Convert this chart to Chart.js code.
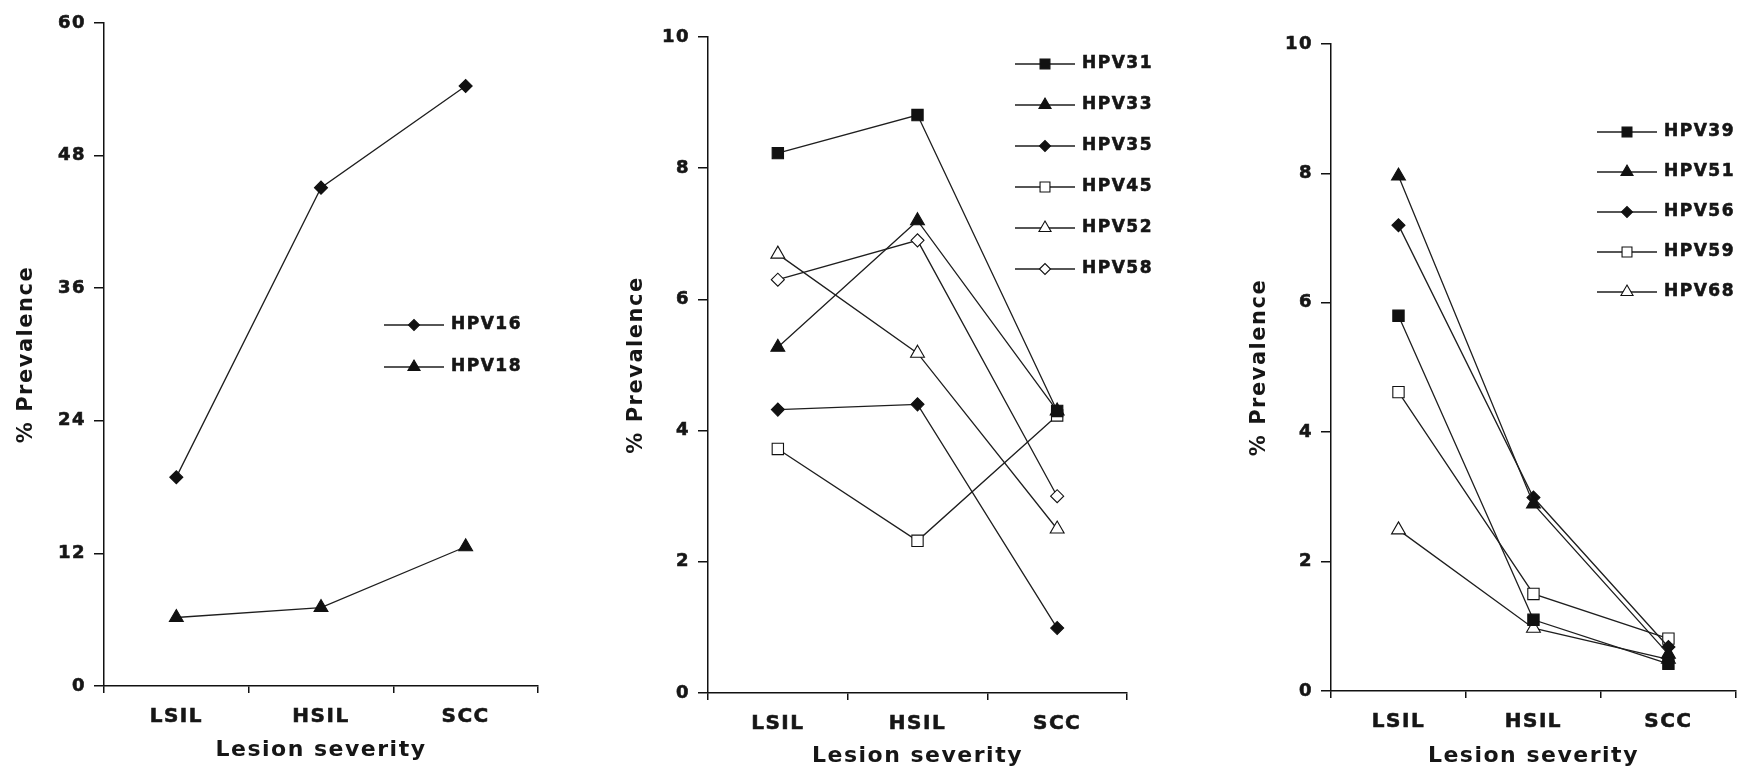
<!DOCTYPE html>
<html>
<head>
<meta charset="utf-8">
<title>HPV prevalence by lesion severity</title>
<script src="https://cdn.jsdelivr.net/npm/chart.js@4.4.1/dist/chart.umd.min.js"></script>
<style>
  html, body { margin: 0; padding: 0; background: #fff; }
  #wrap { position: relative; width: 1745px; height: 771px; overflow: hidden; }
  #wrap canvas { position: absolute; left: 0; top: 0; }
</style>
</head>
<body>
<div id="wrap">
  <canvas id="chartA" width="1745" height="771"></canvas>
  <canvas id="chartB" width="1745" height="771"></canvas>
  <canvas id="chartC" width="1745" height="771"></canvas>
</div>
<script>
// --- Data ---
const severity = ["LSIL", "HSIL", "SCC"];

const hpv16 = [18.9, 45.1, 54.3];
const hpv18 = [6.2, 7.1, 12.6];

const hpv31 = [8.23, 8.81, 4.3];
const hpv33 = [5.27, 7.2, 4.3];
const hpv35 = [4.32, 4.4, 0.99];
const hpv45 = [3.72, 2.32, 4.23];
const hpv52 = [6.69, 5.18, 2.5];
const hpv58 = [6.3, 6.9, 3.0];

const hpv39 = [5.8, 1.1, 0.42];
const hpv51 = [7.96, 2.89, 0.57];
const hpv56 = [7.2, 2.99, 0.68];
const hpv59 = [4.62, 1.5, 0.81];
const hpv68 = [2.49, 0.97, 0.49];

const yTicksA = [0, 12, 24, 36, 48, 60];
const yTicksB = [0, 2, 4, 6, 8, 10];

const ink = "#161616";
const fontFamily = "'DejaVu Sans', Verdana, sans-serif";
const spacing = "1.5px"; // the original lettering is wide

// marker looks: filled / open square, triangle, diamond
const markers = {
    square: { pointStyle: "rect", radius: 8 },
    triangle: { pointStyle: "triangle", radius: 8 },
    diamond: { pointStyle: "rectRot", radius: 6.5 },
};

function series(label, data, shape, filled) {
    const m = markers[shape];
    return {
        label: label,
        data: data,
        borderColor: "#1e1e1e",
        borderWidth: 1.3,
        pointStyle: m.pointStyle,
        pointRadius: m.radius,
        pointHoverRadius: m.radius,
        pointBackgroundColor: filled ? "#111" : "#fff",
        pointBorderColor: "#111",
        pointBorderWidth: 1.1,
        tension: 0,
        clip: false,
        fill: false,
    };
}

const spacingPlugin = {
    id: "spacing",
    beforeUpdate(chart) { chart.ctx.letterSpacing = spacing; },
    beforeDraw(chart) { chart.ctx.letterSpacing = spacing; },
};

function drawMarker(ctx, style, r, x, y) {
    ctx.beginPath();
    if (style === "rect") {
        const s = r * Math.SQRT1_2;
        ctx.rect(x - s, y - s, 2 * s, 2 * s);
    } else if (style === "triangle") {
        ctx.moveTo(x, y - r);
        ctx.lineTo(x + r * 0.866, y + r / 2);
        ctx.lineTo(x - r * 0.866, y + r / 2);
        ctx.closePath();
    } else {
        ctx.moveTo(x - r, y);
        ctx.lineTo(x, y - r);
        ctx.lineTo(x + r, y);
        ctx.lineTo(x, y + r);
        ctx.closePath();
    }
    ctx.fill();
    ctx.stroke();
}

// legend: short line with the marker in the middle, then the label
const lineLegend = {
    id: "lineLegend",
    afterDraw(chart, args, opts) {
        const ctx = chart.ctx;
        ctx.save();
        ctx.letterSpacing = spacing;
        chart.data.datasets.forEach((ds, i) => {
            const y = opts.y + i * opts.gap;
            ctx.strokeStyle = ds.borderColor;
            ctx.lineWidth = ds.borderWidth;
            ctx.beginPath();
            ctx.moveTo(opts.x, y);
            ctx.lineTo(opts.x + 60, y);
            ctx.stroke();
            ctx.fillStyle = ds.pointBackgroundColor;
            ctx.strokeStyle = ds.pointBorderColor;
            ctx.lineWidth = ds.pointBorderWidth;
            drawMarker(ctx, ds.pointStyle, ds.pointRadius - 1, opts.x + 30, y);
            ctx.fillStyle = ink;
            ctx.strokeStyle = ink;
            ctx.lineWidth = 0.6;
            ctx.font = "bold 17px " + fontFamily;
            ctx.textBaseline = "middle";
            ctx.textAlign = "left";
            ctx.fillText(ds.label, opts.x + 67, y);
            ctx.strokeText(ds.label, opts.x + 67, y);
        });
        ctx.restore();
    },
};

function createChart(canvasId, datasets, yMax, yTicks, box, legendPos) {
    const ctx = document.getElementById(canvasId).getContext("2d");
    return new Chart(ctx, {
        type: "line",
        data: { labels: severity, datasets: datasets },
        plugins: [spacingPlugin, lineLegend],
        options: {
            responsive: false,
            animation: false,
            devicePixelRatio: 1,
            layout: { padding: box.padding },
            plugins: {
                legend: { display: false },
                tooltip: { enabled: false },
                lineLegend: legendPos,
            },
            scales: {
                x: {
                    type: "category",
                    offset: true,
                    afterFit: (s) => { s.height = 76; },
                    grid: {
                        offset: true,
                        drawOnChartArea: false,
                        drawTicks: true,
                        tickLength: 7,
                        color: "#111",
                        lineWidth: 1.5,
                    },
                    border: { display: true, color: "#111", width: 1.5 },
                    ticks: {
                        color: ink,
                        padding: 12,
                        textStrokeColor: ink,
                        textStrokeWidth: 0.6,
                        font: { family: fontFamily, size: 20, weight: "bold" },
                    },
                    title: {
                        display: true,
                        text: "Lesion severity",
                        color: ink,
                        padding: { top: 0, bottom: box.xTitlePad },
                        font: { family: fontFamily, size: 22, weight: "bold", lineHeight: 1.0 },
                    },
                },
                y: {
                    min: 0,
                    max: yMax,
                    afterFit: (s) => { s.width = 100; },
                    afterBuildTicks: (s) => { s.ticks = yTicks.map((v) => ({ value: v })); },
                    grid: {
                        drawOnChartArea: false,
                        drawTicks: true,
                        tickLength: 10,
                        color: "#111",
                        lineWidth: 1.5,
                    },
                    border: { display: true, color: "#111", width: 1.5 },
                    ticks: {
                        color: ink,
                        padding: 8,
                        textStrokeColor: ink,
                        textStrokeWidth: 0.6,
                        font: { family: fontFamily, size: 18, weight: "bold" },
                    },
                    title: {
                        display: true,
                        text: "% Prevalence",
                        color: ink,
                        padding: { top: box.yTitlePad, bottom: 0 },
                        font: { family: fontFamily, size: 21, weight: "bold", lineHeight: 1.2 },
                    },
                },
            },
        },
    });
}

document.addEventListener("DOMContentLoaded", () => {
    createChart(
        "chartA",
        [
            series("HPV16", hpv16, "diamond", true),
            series("HPV18", hpv18, "triangle", true),
        ],
        60,
        yTicksA,
        { padding: { left: 4, right: 1207, top: 23, bottom: 9 }, xTitlePad: 1, yTitlePad: 10 },
        { x: 384, y: 325, gap: 42 },
    );

    createChart(
        "chartB",
        [
            series("HPV31", hpv31, "square", true),
            series("HPV33", hpv33, "triangle", true),
            series("HPV35", hpv35, "diamond", true),
            series("HPV45", hpv45, "square", false),
            series("HPV52", hpv52, "triangle", false),
            series("HPV58", hpv58, "diamond", false),
        ],
        10,
        yTicksB,
        { padding: { left: 608, right: 618, top: 37, bottom: 2 }, xTitlePad: 2, yTitlePad: 16 },
        { x: 1015, y: 64, gap: 41 },
    );

    createChart(
        "chartC",
        [
            series("HPV39", hpv39, "square", true),
            series("HPV51", hpv51, "triangle", true),
            series("HPV56", hpv56, "diamond", true),
            series("HPV59", hpv59, "square", false),
            series("HPV68", hpv68, "triangle", false),
        ],
        10,
        yTicksB,
        { padding: { left: 1231, right: 8, top: 44, bottom: 4 }, xTitlePad: 0, yTitlePad: 16 },
        { x: 1597, y: 132, gap: 40 },
    );
});
</script>
</body>
</html>
